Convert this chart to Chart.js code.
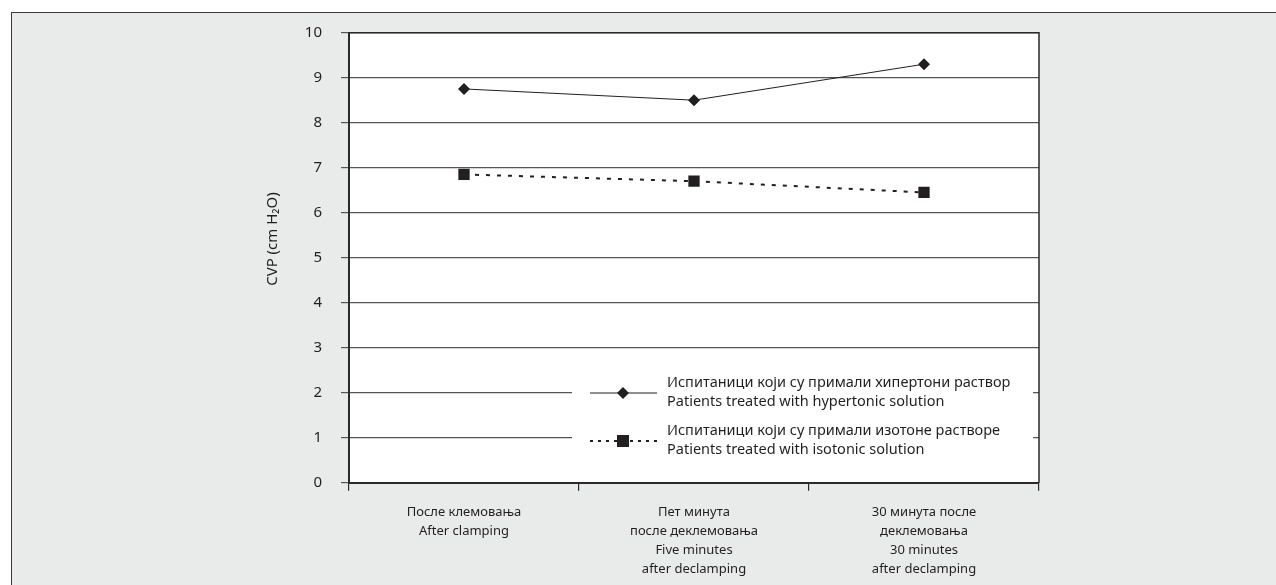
<!DOCTYPE html>
<html>
<head>
<meta charset="utf-8">
<script src="https://cdn.jsdelivr.net/npm/chart.js@4/dist/chart.umd.min.js"></script>
<style>
  html, body { margin:0; padding:0; background:#ffffff; width:1276px; height:585px; overflow:hidden; }
  #frame { position:absolute; left:11px; top:12px; width:1280px; height:590px; background:#e9eaea; border-left:1.5px solid #3a3a3a; border-top:1.5px solid #3a3a3a; box-sizing:border-box; }
  #wrap { position:absolute; left:0; top:0; width:1276px; height:585px; }
</style>
</head>
<body>
<div id="frame"></div>
<div id="wrap"><canvas id="c" width="1276" height="585"></canvas></div>
<script>
// ---- data ----
const categories = [
  ["После клемовања", "After clamping"],
  ["Пет минута", "после деклемовања", "Five minutes", "after declamping"],
  ["30 минута после", "деклемовања", "30 minutes", "after declamping"]
];
const hypertonicValues = [8.75, 8.5, 9.3];
const isotonicValues = [6.85, 6.7, 6.45];
const seriesLabels = [
  ["Испитаници који су примали хипертони раствор", "Patients treated with hypertonic solution"],
  ["Испитаници који су примали изотоне растворе", "Patients treated with isotonic solution"]
];
const yTicks = [0,1,2,3,4,5,6,7,8,9,10];
const yTitle = "CVP (cm H\u2082O)";

const FONT = "'Noto Sans', 'DejaVu Sans', sans-serif";
const INK = '#231f20';

const areaPlugin = {
  id: 'areaPlugin',
  beforeDraw(chart) {
    const a = chart.chartArea, ctx = chart.ctx;
    ctx.save();
    ctx.fillStyle = '#ffffff';
    ctx.fillRect(a.left, a.top, a.right - a.left, a.bottom - a.top);
    ctx.restore();
  },
  afterDraw(chart) {
    const a = chart.chartArea, ctx = chart.ctx;
    ctx.save();
    ctx.strokeStyle = '#2a2a2a';
    ctx.lineWidth = 1.5;
    ctx.beginPath();
    ctx.moveTo(a.left, a.top);
    ctx.lineTo(a.right, a.top);
    ctx.lineTo(a.right, a.bottom);
    ctx.stroke();

    // y axis title
    ctx.save();
    ctx.translate(273, 239);
    ctx.rotate(-Math.PI / 2);
    ctx.fillStyle = INK;
    ctx.font = "15px " + FONT;
    ctx.textAlign = 'center';
    ctx.textBaseline = 'middle';
    ctx.fillText(yTitle, 0, 0);
    ctx.restore();

    // legend
    ctx.fillStyle = '#ffffff';
    ctx.fillRect(572, 356, 461, 118);
    const rows = [393, 441];
    chart.data.datasets.forEach((ds, i) => {
      const y = rows[i];
      ctx.strokeStyle = INK;
      ctx.lineWidth = i === 0 ? 1 : 2;
      ctx.setLineDash(i === 0 ? [] : [3, 5]);
      ctx.beginPath();
      ctx.moveTo(590, y); ctx.lineTo(657, y);
      ctx.stroke();
      ctx.setLineDash([]);
      ctx.fillStyle = INK;
      if (i === 0) {
        ctx.beginPath();
        ctx.moveTo(623, y - 6); ctx.lineTo(629, y); ctx.lineTo(623, y + 6); ctx.lineTo(617, y);
        ctx.closePath(); ctx.fill();
      } else {
        ctx.fillRect(617, y - 6, 12, 12);
      }
      ctx.fillStyle = INK;
      ctx.font = "14.5px " + FONT;
      ctx.textAlign = 'left';
      ctx.textBaseline = 'middle';
      const lines = seriesLabels[i];
      ctx.fillText(lines[0], 667, y - 10);
      ctx.fillText(lines[1], 667, y + 9);
    });
    ctx.restore();
  }
};

new Chart(document.getElementById('c'), {
  type: 'line',
  data: {
    labels: categories,
    datasets: [
      {
        label: seriesLabels[0].join(' '),
        data: hypertonicValues,
        borderColor: INK,
        borderWidth: 1,
        pointStyle: 'rectRot',
        pointRadius: 6,
        pointHoverRadius: 6,
        pointBackgroundColor: INK,
        pointBorderColor: INK,
        pointBorderWidth: 0,
        tension: 0,
        fill: false
      },
      {
        label: seriesLabels[1].join(' '),
        data: isotonicValues,
        borderColor: INK,
        borderWidth: 2,
        borderDash: [4, 7],
        pointStyle: 'rect',
        pointRadius: 8,
        pointHoverRadius: 8,
        pointBackgroundColor: INK,
        pointBorderColor: INK,
        pointBorderWidth: 0,
        tension: 0,
        fill: false
      }
    ]
  },
  options: {
    responsive: false,
    animation: false,
    devicePixelRatio: 1,
    layout: { padding: { left: 268, right: 237, top: 32.7, bottom: 0 } },
    plugins: {
      legend: { display: false },
      tooltip: { enabled: false }
    },
    scales: {
      x: {
        type: 'category',
        offset: true,
        afterFit(scale) { scale.height = 102.3; },
        grid: { display: true, drawOnChartArea: false, drawTicks: true, tickLength: 8, offset: true, color: '#2a2a2a', lineWidth: 1.2 },
        border: { display: true, color: '#2a2a2a', width: 2 },
        ticks: { color: INK, font: { family: FONT, size: 13, lineHeight: 1.47 }, padding: 12, maxRotation: 0, autoSkip: false }
      },
      y: {
        min: 0, max: 10,
        afterFit(scale) { scale.width = 81; },
        afterBuildTicks(scale) { scale.ticks = yTicks.map(v => ({ value: v })); },
        grid: { color: '#555555', lineWidth: 1.2, drawTicks: true, tickLength: 8 },
        border: { display: true, color: '#2a2a2a', width: 2 },
        ticks: { color: INK, font: { family: FONT, size: 15 }, padding: 19 },
        title: { display: false, text: yTitle }
      }
    }
  },
  plugins: [areaPlugin]
});
</script>
</body>
</html>
